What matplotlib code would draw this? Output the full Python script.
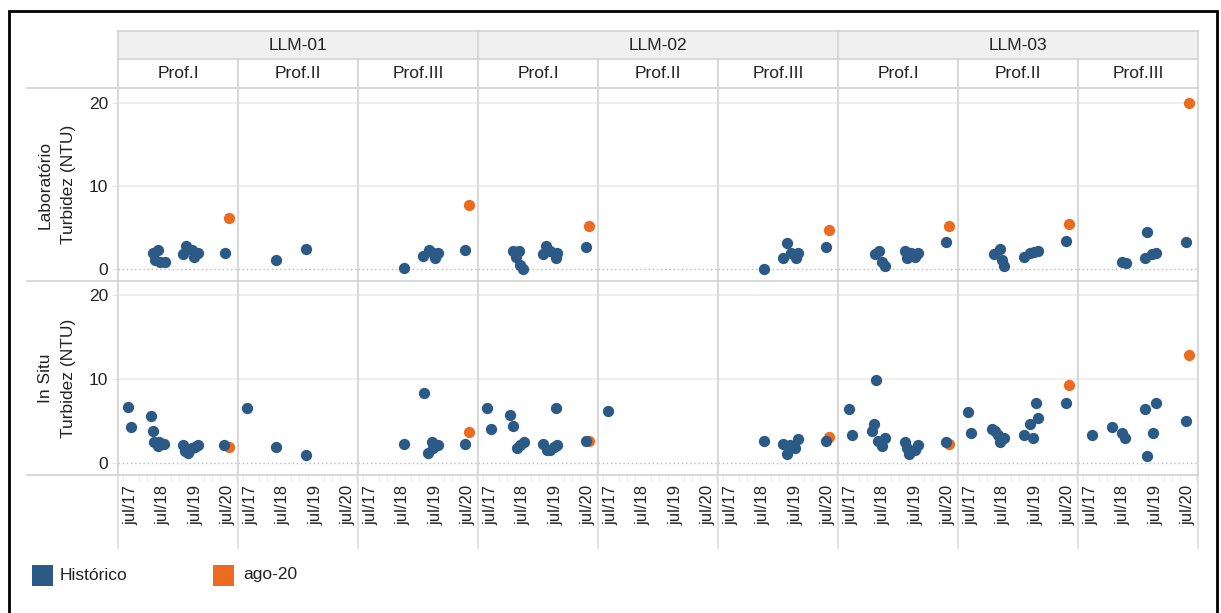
import matplotlib.pyplot as plt
from matplotlib.patches import Rectangle
from matplotlib.lines import Line2D

plt.rcParams['font.family'] = ['Liberation Sans', 'DejaVu Sans']

# ---- data (decimal years, NTU) ----
sites = ['LLM-01', 'LLM-02', 'LLM-03']
profs = ['Prof.I', 'Prof.II', 'Prof.III']
tick_pos = [2017.5, 2018.5, 2019.5, 2020.5]
tick_labels = ['jul/17', 'jul/18', 'jul/19', 'jul/20']
ago20_date = 2020.53

# Laboratório - histórico
lab_01_I_t = [2018.19, 2018.35, 2018.24, 2018.40, 2018.55, 2019.12, 2019.19, 2019.38, 2019.46, 2019.56, 2020.41]
lab_01_I_v = [2.0, 2.35, 1.1, 0.9, 0.9, 1.8, 2.75, 2.25, 1.5, 2.0, 2.0]
lab_01_II_t = [2018.27, 2019.20]
lab_01_II_v = [1.1, 2.4]
lab_01_III_t = [2018.53, 2019.12, 2019.30, 2019.43, 2019.48, 2019.58, 2020.41]
lab_01_III_v = [0.2, 1.6, 2.35, 2.0, 1.4, 2.0, 2.35]
lab_02_I_t = [2018.17, 2018.38, 2018.27, 2018.40, 2018.50, 2019.12, 2019.20, 2019.33, 2019.50, 2019.55, 2020.43]
lab_02_I_v = [2.15, 2.15, 1.5, 0.55, 0.05, 1.8, 2.75, 2.15, 1.3, 2.0, 2.7]
lab_02_II_t = []
lab_02_II_v = []
lab_02_III_t = [2018.52, 2019.12, 2019.22, 2019.35, 2019.51, 2019.58, 2020.44]
lab_02_III_v = [0.05, 1.4, 3.2, 2.0, 1.3, 2.0, 2.7]
lab_03_I_t = [2018.24, 2018.38, 2018.45, 2018.55, 2019.17, 2019.22, 2019.35, 2019.48, 2019.58, 2020.43]
lab_03_I_v = [1.8, 2.2, 0.9, 0.35, 2.15, 1.35, 2.0, 1.5, 2.0, 3.3]
lab_03_II_t = [2018.21, 2018.40, 2018.45, 2018.53, 2019.14, 2019.33, 2019.45, 2019.58, 2020.45]
lab_03_II_v = [1.8, 2.4, 1.1, 0.35, 1.5, 2.0, 2.1, 2.15, 3.4]
lab_03_III_t = [2018.45, 2018.57, 2019.17, 2019.22, 2019.38, 2019.51, 2020.44]
lab_03_III_v = [0.9, 0.7, 1.4, 4.45, 1.8, 1.95, 3.3]
# Laboratório - ago-20 (None = sem dado)
lab_ago20 = [6.15, None, 7.75, 5.2, None, 4.7, 5.2, 5.4, 20.0]

# In Situ - histórico
is_01_I_t = [2017.40, 2017.50, 2018.11, 2018.19, 2018.22, 2018.33, 2018.38, 2018.53, 2019.12, 2019.17, 2019.27, 2019.38, 2019.48, 2019.57, 2020.39]
is_01_I_v = [6.6, 4.2, 5.5, 3.8, 2.5, 2.0, 2.4, 2.2, 2.1, 1.4, 1.1, 1.7, 1.9, 2.1, 2.1]
is_01_II_t = [2017.38, 2018.27, 2019.20]
is_01_II_v = [6.5, 1.9, 0.95]
is_01_III_t = [2018.53, 2019.14, 2019.27, 2019.38, 2019.43, 2019.58, 2020.41]
is_01_III_v = [2.2, 8.35, 1.1, 2.5, 1.7, 2.1, 2.2]
is_02_I_t = [2017.39, 2017.49, 2018.09, 2018.19, 2018.30, 2018.40, 2018.52, 2019.12, 2019.22, 2019.33, 2019.45, 2019.50, 2019.55, 2020.43]
is_02_I_v = [6.55, 4.0, 5.7, 4.4, 1.7, 2.1, 2.4, 2.2, 1.5, 1.5, 1.9, 6.55, 2.1, 2.6]
is_02_II_t = [2017.42]
is_02_II_v = [6.2]
is_02_III_t = [2018.52, 2019.12, 2019.22, 2019.33, 2019.48, 2019.56, 2020.44]
is_02_III_v = [2.6, 2.2, 1.0, 2.1, 1.7, 2.75, 2.6]
is_03_I_t = [2017.44, 2017.52, 2018.14, 2018.22, 2018.27, 2018.35, 2018.45, 2018.55, 2019.17, 2019.22, 2019.30, 2019.48, 2019.58, 2020.43]
is_03_I_v = [6.35, 3.3, 3.8, 4.55, 9.8, 2.55, 2.0, 2.95, 2.4, 1.7, 1.0, 1.5, 2.1, 2.4]
is_03_II_t = [2017.42, 2017.51, 2018.14, 2018.24, 2018.35, 2018.40, 2018.52, 2019.14, 2019.33, 2019.43, 2019.51, 2019.57, 2020.45]
is_03_II_v = [6.0, 3.5, 4.0, 3.8, 3.3, 2.4, 2.95, 3.3, 4.55, 2.95, 7.05, 5.3, 7.05]
is_03_III_t = [2017.54, 2018.14, 2018.47, 2018.55, 2019.17, 2019.22, 2019.41, 2019.51, 2020.44]
is_03_III_v = [3.3, 4.2, 3.5, 2.95, 6.35, 0.8, 3.5, 7.05, 4.9]
# In Situ - ago-20
is_ago20 = [1.8, None, 3.7, 2.6, None, 3.0, 2.2, 9.25, 12.85]

lab_t = [lab_01_I_t, lab_01_II_t, lab_01_III_t, lab_02_I_t, lab_02_II_t, lab_02_III_t, lab_03_I_t, lab_03_II_t, lab_03_III_t]
lab_v = [lab_01_I_v, lab_01_II_v, lab_01_III_v, lab_02_I_v, lab_02_II_v, lab_02_III_v, lab_03_I_v, lab_03_II_v, lab_03_III_v]
is_t = [is_01_I_t, is_01_II_t, is_01_III_t, is_02_I_t, is_02_II_t, is_02_III_t, is_03_I_t, is_03_II_t, is_03_III_t]
is_v = [is_01_I_v, is_01_II_v, is_01_III_v, is_02_I_v, is_02_II_v, is_02_III_v, is_03_I_v, is_03_II_v, is_03_III_v]

blue = '#2b5a87'
orange = '#eb6b21'
grid_c = '#d2d2d2'
txt_c = '#222222'

W, H = 1221, 613
def fx(px):
    return px / W
def fy(py):
    return 1 - py / H

fig = plt.figure(figsize=(12.21, 6.13), dpi=100)

def line(x0, y0, x1, y1, color=grid_c, lw=1.2):
    fig.add_artist(Line2D([fx(x0), fx(x1)], [fy(y0), fy(y1)], color=color, lw=lw))

# layout in pixels
x0 = 118
pw = 120
rows = [(88, 281, (-1.42, 21.76), lab_t, lab_v, lab_ago20, 'Laboratório\nTurbidez (NTU)'),
        (281, 475, (-1.49, 21.68), is_t, is_v, is_ago20, 'In Situ\nTurbidez (NTU)')]

for r, (top, bot, ylim, ts, vs, ago, ylab) in enumerate(rows):
    for c in range(9):
        ax = fig.add_axes([fx(x0 + pw * c), fy(bot), pw / W, (bot - top) / H])
        ax.set_xlim(2017.098, 2020.813)
        ax.set_ylim(*ylim)
        for s in ax.spines.values():
            s.set_visible(False)
        ax.axhline(10, color='#eeeeee', lw=1.3, zorder=0)
        ax.axhline(20, color='#eeeeee', lw=1.3, zorder=0)
        ax.axhline(0, color='#bbbbbb', lw=1.0, ls=(0, (1, 2)), zorder=0)
        if ago[c] is not None:
            ax.scatter([ago20_date], [ago[c]], s=66, color=orange, lw=0, zorder=2)
        ax.scatter(ts[c], vs[c], s=66, color=blue, lw=0, zorder=3)
        ax.set_yticks([0, 10, 20])
        if c == 0:
            ax.set_yticklabels(['0', '10', '20'], fontsize=12.5, color=txt_c)
            ax.tick_params(axis='y', length=4, color='#e4e4e4', pad=3)
        else:
            ax.tick_params(axis='y', left=False, labelleft=False)
        ax.set_xticks(tick_pos)
        if r == 1:
            ax.set_xticklabels(tick_labels, rotation=90, fontsize=12, color=txt_c)
            ax.set_xticks([2017.25 + 0.25 * k for k in range(15)], minor=True)
            ax.tick_params(axis='x', which='major', length=0, pad=7)
            ax.tick_params(axis='x', which='minor', length=4, color='#e6e6e6')
        else:
            ax.tick_params(axis='x', bottom=False, labelbottom=False)
    fig.text(fx(57), fy((top + bot) / 2), ylab, rotation=90, ha='center', va='center',
             fontsize=12.5, color=txt_c, linespacing=1.75)

# header rows
fig.add_artist(Rectangle((fx(x0), fy(59)), (pw * 9) / W, 28 / H, transform=fig.transFigure,
                         facecolor='#f0f0f0', edgecolor='none'))
for k, name in enumerate(sites):
    fig.text(fx(x0 + 360 * k + 180), fy(45), name, ha='center', va='center', fontsize=12.5, color=txt_c)
    for j, p in enumerate(profs):
        fig.text(fx(x0 + 360 * k + 120 * j + 60), fy(73.5), p, ha='center', va='center',
                 fontsize=12.5, color=txt_c)
line(x0, 31, x0 + 9 * pw, 31)
line(x0, 59, x0 + 9 * pw, 59)
for k in range(4):
    line(x0 + 360 * k, 31, x0 + 360 * k, 59)

# grid separators
for c in range(10):
    line(x0 + pw * c, 59, x0 + pw * c, 475)
    line(x0 + pw * c, 475, x0 + pw * c, 548, color='#dddddd')
for y in (88, 281, 475):
    line(27, y, x0 + 9 * pw, y)

# legend
fig.add_artist(Rectangle((fx(32), fy(586)), 21 / W, 21 / H, transform=fig.transFigure,
                         facecolor=blue, edgecolor='none'))
fig.text(fx(60), fy(575), 'Histórico', ha='left', va='center', fontsize=12.5, color=txt_c)
fig.add_artist(Rectangle((fx(213), fy(586)), 21 / W, 21 / H, transform=fig.transFigure,
                         facecolor=orange, edgecolor='none'))
fig.text(fx(243), fy(575), 'ago-20', ha='left', va='center', fontsize=12.5, color=txt_c)

# outer frame
fig.add_artist(Rectangle((fx(9), fy(640)), (1217 - 9) / W, (640 - 11) / H, transform=fig.transFigure,
                         facecolor='none', edgecolor='black', lw=2))

fig.savefig('out.png', dpi=100)
